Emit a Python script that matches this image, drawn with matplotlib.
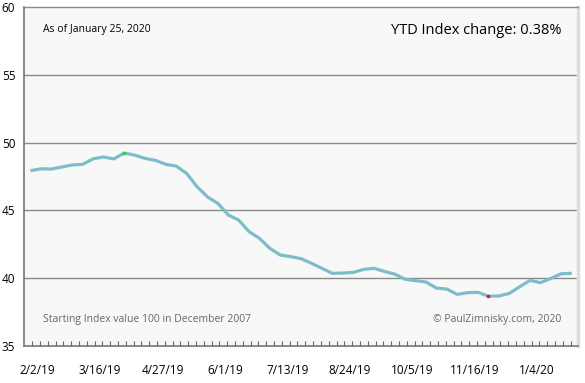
import matplotlib.pyplot as plt
import numpy as np

# weekly index values (2/2019 - 1/2020)
index_values = [47.93, 48.07, 48.05, 48.20, 48.35, 48.40, 48.80, 48.94, 48.80, 49.23,
                49.08, 48.84, 48.69, 48.40, 48.27, 47.73, 46.75, 46.00, 45.52, 44.66,
                44.29, 43.43, 42.94, 42.20, 41.71, 41.59, 41.44, 41.10, 40.73, 40.36,
                40.38, 40.43, 40.65, 40.73, 40.50, 40.30, 39.92, 39.82, 39.72, 39.27,
                39.20, 38.81, 38.93, 38.96, 38.67, 38.69, 38.88, 39.37, 39.84, 39.67,
                39.99, 40.33, 40.36]
date_labels = ["2/2/19", "3/16/19", "4/27/19", "6/1/19", "7/13/19",
               "8/24/19", "10/5/19", "11/16/19", "1/4/20"]
y_ticks = [35, 40, 45, 50, 55, 60]

plt.rcParams['font.family'] = ['Open Sans', 'DejaVu Sans']

fig = plt.figure(figsize=(5.85, 3.83), dpi=100)
ax = fig.add_axes([0.0415, 0.0966, 0.9465, 0.885])
ax.set_facecolor('#F8F8F8')

x = np.arange(len(index_values))
ax.plot(x, index_values, color='#7DBDC9', lw=2.3, solid_capstyle='butt', zorder=3)
imax = int(np.argmax(index_values))
imin = int(np.argmin(index_values))
ax.plot(x[imax], index_values[imax], 's', color='#22DD22', ms=1.6, zorder=4)
ax.plot(x[imin], index_values[imin], 's', color='#DD2222', ms=1.6, zorder=4)

ax.set_xlim(-0.6, 52.6)
ax.set_ylim(35, 60)

# gridlines
for yv in y_ticks[1:-1]:
    ax.axhline(yv, color='#8A8A8A', lw=1.0, zorder=1)

ax.set_yticks(y_ticks)
ax.set_yticklabels([str(v) for v in y_ticks], fontsize=8.5)
ax.tick_params(axis='y', length=0, pad=6.5)

# labels every 6 weeks, small minor ticks in between
label_pos = [0.67 + 6 * k for k in range(len(date_labels))]
ax.set_xticks(label_pos)
ax.set_xticklabels(date_labels, fontsize=8.5)
ax.tick_params(axis='x', which='major', length=0, pad=13)
ax.set_xticks(np.arange(-0.6 + 0.75, 52.6, 0.75), minor=True)
ax.tick_params(axis='x', which='minor', direction='in', length=3.5, width=0.8, color='#666666')

for side in ['left', 'bottom']:
    ax.spines[side].set_color('#777777')
    ax.spines[side].set_linewidth(1.2)
ax.spines['top'].set_color('#8A8A8A')
ax.spines['top'].set_linewidth(1.0)
ax.spines['right'].set_color('#DDDDDD')
ax.spines['right'].set_linewidth(2.5)

ax.text(0.033, 0.935, "As of January 25, 2020", transform=ax.transAxes,
        fontsize=7.5, color='black', va='center', ha='left')
ax.text(0.97, 0.93, "YTD Index change: 0.38%", transform=ax.transAxes,
        fontsize=10.5, color='black', va='center', ha='right')
ax.text(0.033, 0.077, "Starting Index value 100 in December 2007", transform=ax.transAxes,
        fontsize=7.5, color='#666666', va='center', ha='left')
ax.text(0.97, 0.077, "\u00a9 PaulZimnisky.com, 2020", transform=ax.transAxes,
        fontsize=7.5, color='#666666', va='center', ha='right')

plt.savefig("out.png", dpi=100)
